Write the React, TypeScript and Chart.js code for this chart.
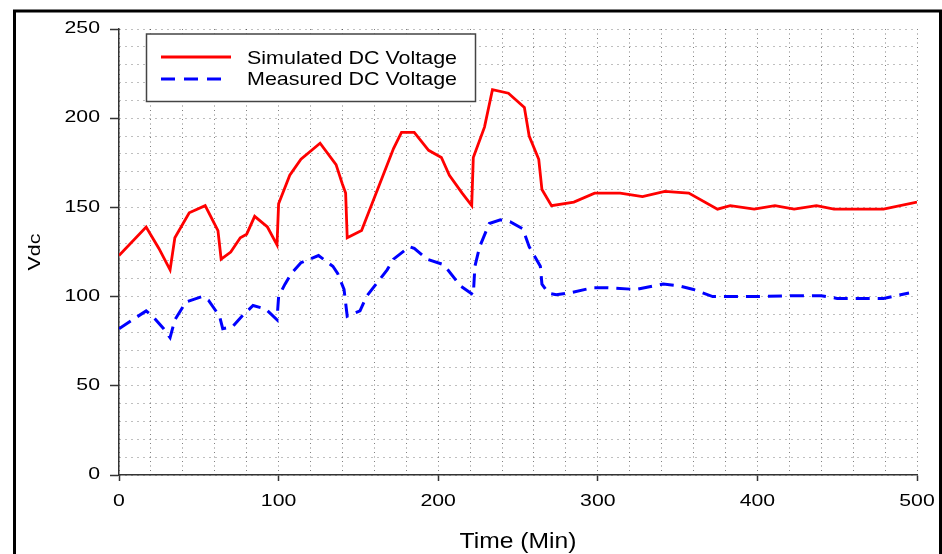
import React, { useEffect, useRef } from "react";
import { Chart, registerables } from "chart.js";

Chart.register(...registerables);

// ---- Data ----
const simTime = [0, 17, 25, 32, 35, 44, 54, 62, 64, 70, 76, 80, 85, 93, 99, 100, 107, 114, 126, 136, 140, 142, 143, 152, 172, 177, 185, 194, 202, 207, 215, 221, 222, 229, 234, 244, 254, 257, 263, 265, 271, 285, 298, 314, 328, 342, 357, 375, 383, 398, 411, 423, 437, 448, 479, 500];
const simVolt = [123, 139, 127, 115, 133, 147, 151, 137, 121, 125, 133, 135, 145, 139, 129, 152, 168, 177, 186, 174, 163, 158, 133, 137, 183, 192, 192, 182, 178, 168, 158, 151, 178, 195, 216, 214, 206, 190, 177, 160, 151, 153, 158, 158, 156, 159, 158, 149, 151, 149, 151, 149, 151, 149, 149, 153];

const measTime = [0, 17, 21, 28, 32, 35, 42, 52, 56, 63, 65, 71, 77, 84, 92, 99, 100, 104, 108, 114, 125, 134, 137, 141, 143, 151, 155, 168, 172, 182, 185, 193, 203, 206, 214, 222, 223, 226, 232, 239, 245, 253, 257, 264, 265, 269, 274, 282, 297, 305, 324, 341, 351, 360, 372, 381, 401, 420, 440, 450, 479, 495];
const measVolt = [82, 92, 89, 82, 77, 87, 97, 100, 98, 89, 82, 83, 89, 95, 93, 87, 100, 107, 113, 119, 123, 117, 113, 104, 89, 92, 100, 115, 121, 128, 127, 121, 118, 115, 106, 101, 117, 128, 141, 143, 142, 138, 128, 117, 107, 102, 101, 102, 105, 105, 104, 107, 106, 104, 100, 100, 100, 100.5, 100.5, 99, 99, 102];

const yTickLabels = [0, 50, 100, 150, 200, 250];
const xTickLabels = [0, 100, 200, 300, 400, 500];
const seriesNames = ["Simulated DC Voltage", "Measured DC Voltage"];
const xTitle = "Time (Min)";
const yTitle = "Vdc";

const FONT = '"Liberation Sans", Arial, Helvetica, sans-serif';
const RED = "#ff0000";
const BLUE = "#0000ff";

function drawText(
  ctx: CanvasRenderingContext2D,
  text: string,
  x: number,
  y: number,
  size: number,
  sx: number,
  align: CanvasTextAlign,
  baseline: CanvasTextBaseline,
  rotate = 0
) {
  ctx.save();
  ctx.font = `${size}px ${FONT}`;
  ctx.textAlign = align;
  ctx.textBaseline = baseline;
  ctx.fillStyle = "#000";
  ctx.translate(x, y);
  if (rotate) ctx.rotate(rotate);
  ctx.scale(sx, 1);
  ctx.fillText(text, 0, 0);
  ctx.restore();
}

const overlayPlugin = {
  id: "overlay",
  afterDraw(chart: any) {
    const ctx: CanvasRenderingContext2D = chart.ctx;
    const xs = chart.scales.x;
    const ys = chart.scales.y;

    // tick labels
    yTickLabels.forEach((v) =>
      drawText(ctx, String(v), 100, ys.getPixelForValue(v) - 0.5, 17, 1.25, "right", "middle")
    );
    xTickLabels.forEach((v) =>
      drawText(ctx, String(v), xs.getPixelForValue(v), 501, 17, 1.25, "center", "middle")
    );

    // axis titles
    drawText(ctx, xTitle, (xs.left + xs.right) / 2, 548, 22, 1.12, "center", "alphabetic");
    drawText(ctx, yTitle, 40, (ys.top + ys.bottom) / 2, 17, 1.26, "center", "alphabetic", -Math.PI / 2);

    // legend box
    ctx.save();
    ctx.fillStyle = "#ffffff";
    ctx.fillRect(146.5, 34, 329, 67.5);
    ctx.strokeStyle = "#444";
    ctx.lineWidth = 1.5;
    ctx.strokeRect(146.5, 34, 329, 67.5);

    ctx.lineCap = "butt";
    ctx.strokeStyle = RED;
    ctx.lineWidth = 2.8;
    ctx.setLineDash([]);
    ctx.beginPath();
    ctx.moveTo(161, 57);
    ctx.lineTo(231, 57);
    ctx.stroke();

    ctx.strokeStyle = BLUE;
    ctx.lineWidth = 3;
    ctx.setLineDash([14, 9]);
    ctx.beginPath();
    ctx.moveTo(161, 79);
    ctx.lineTo(222, 79);
    ctx.stroke();
    ctx.restore();

    drawText(ctx, seriesNames[0], 247, 64, 19, 1.13, "left", "alphabetic");
    drawText(ctx, seriesNames[1], 247, 85, 19, 1.13, "left", "alphabetic");

    // outer frame
    ctx.save();
    ctx.strokeStyle = "#000";
    ctx.lineWidth = 3;
    ctx.setLineDash([]);
    ctx.strokeRect(14.5, 11, 926, 600);
    ctx.restore();
  },
};

export default function App() {
  const ref = useRef<HTMLCanvasElement | null>(null);

  useEffect(() => {
    if (!ref.current) return;
    const chart = new Chart(ref.current, {
      type: "line",
      data: {
        datasets: [
          {
            label: seriesNames[0],
            data: simTime.map((t, i) => ({ x: t, y: simVolt[i] })),
            borderColor: RED,
            backgroundColor: RED,
            borderWidth: 2.8,
            pointRadius: 0,
            tension: 0,
            fill: false,
          },
          {
            label: seriesNames[1],
            data: measTime.map((t, i) => ({ x: t, y: measVolt[i] })),
            borderColor: BLUE,
            backgroundColor: BLUE,
            borderWidth: 3,
            borderDash: [14, 8],
            pointRadius: 0,
            tension: 0,
            fill: false,
          },
        ],
      },
      options: {
        animation: false,
        responsive: false,
        devicePixelRatio: 1,
        layout: { padding: { left: 0, right: 25, top: 29, bottom: 0 } },
        plugins: { legend: { display: false }, tooltip: { enabled: false } },
        scales: {
          x: {
            type: "linear",
            min: 0,
            max: 500,
            ticks: { stepSize: 20, display: false },
            grid: {
              color: "rgba(0,0,0,0.5)",
              lineWidth: 1,
              tickLength: 6,
              tickWidth: 1.5,
              tickColor: (c: any) =>
                c.tick && c.tick.value % 100 === 0 ? "#333" : "rgba(0,0,0,0)",
            },
            border: { display: true, color: "#333", width: 1.5, dash: [1, 3.5] },
            afterFit: (s: any) => {
              s.height = 79;
            },
          },
          y: {
            type: "linear",
            min: 0,
            max: 250,
            ticks: { stepSize: 10, display: false },
            grid: {
              color: "rgba(0,0,0,0.5)",
              lineWidth: 1,
              tickLength: 9,
              tickWidth: 1.5,
              tickColor: (c: any) =>
                c.tick && c.tick.value % 50 === 0 ? "#333" : "rgba(0,0,0,0)",
            },
            border: { display: true, color: "#333", width: 1.5, dash: [1, 5] },
            afterFit: (s: any) => {
              s.width = 119;
            },
          },
        },
      },
      plugins: [overlayPlugin],
    });
    return () => chart.destroy();
  }, []);

  return (
    <div style={{ position: "absolute", left: 0, top: 0, width: 942, height: 554, background: "#fff" }}>
      <canvas ref={ref} width={942} height={554} style={{ display: "block" }} />
    </div>
  );
}
